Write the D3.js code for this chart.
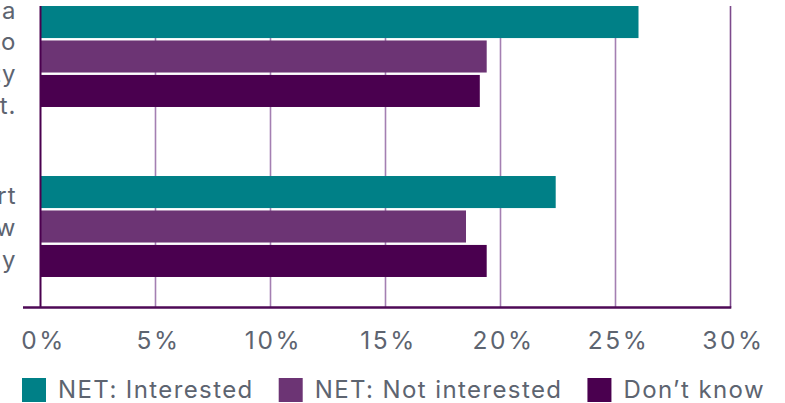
<!DOCTYPE html>
<html>
<head>
<meta charset="utf-8">
<script src="https://cdn.jsdelivr.net/npm/d3@7"></script>
<style>
  body { margin: 0; background: #fff; }
  svg { display: block; }
  text { font-family: Inter, 'Open Sans', sans-serif; fill: #5d6470; }
</style>
</head>
<body>
<div id="chart"></div>
<script>
// Data
const categories = [
  ['Having access to a', 'service that helps me to', 'manage my electricity', 'use and lower my cost.'],
  ['Having a smart', 'display that shows how', 'I use my energy'],
];
const series = ['NET: Interested', 'NET: Not interested', 'Don’t know'];
const interested = [26.0, 22.4];
const notInterested = [19.4, 18.5];
const dontKnow = [19.1, 19.4];
const tickValues = [0, 5, 10, 15, 20, 25, 30];
const tickLabels = ['0%', '5%', '10%', '15%', '20%', '25%', '30%'];

const width = 785;
const height = 403;
const plot = { l: 40.5, r: 730.5, t: 6, b: 307.5 };
const colors = ['#008087', '#6c3474', '#4a004f'];

const rows = categories.map((c, i) => ({
  key: i,
  label: c,
  values: [interested[i], notInterested[i], dontKnow[i]],
}));

const svg = d3
  .select('#chart')
  .append('svg')
  .attr('width', width)
  .attr('height', height);

const xScale = d3.scaleLinear([0, 30], [plot.l, plot.r]);
const yScale = d3
  .scaleBand(d3.range(categories.length), [-28.5, 311.5])
  .paddingInner(0.406)
  .paddingOuter(0.203);
const ySub = d3.scaleBand(d3.range(series.length), [0, yScale.bandwidth()]).paddingInner(0.07);

// gridlines
svg
  .append('g')
  .selectAll('line')
  .data(tickValues.slice(1))
  .join('line')
  .attr('x1', (d) => xScale(d))
  .attr('x2', (d) => xScale(d))
  .attr('y1', plot.t)
  .attr('y2', plot.b)
  .attr('stroke', (d) => (d === 30 ? '#7d4a8c' : '#a47fb2'))
  .attr('stroke-width', 1.6);

// bars
const groups = svg
  .append('g')
  .selectAll('g')
  .data(rows)
  .join('g')
  .attr('transform', (d) => `translate(0, ${yScale(d.key)})`);

groups
  .selectAll('rect')
  .data((d) => d.values)
  .join('rect')
  .attr('x', xScale(0))
  .attr('y', (d, i) => ySub(i))
  .attr('width', (d) => xScale(d) - xScale(0))
  .attr('height', ySub.bandwidth())
  .attr('fill', (d, i) => colors[i]);

// category labels (cut off by the left edge, as in the original)
groups
  .selectAll('text')
  .data((d) => d.label.map((t, i) => ({ t, i, n: d.label.length })))
  .join('text')
  .attr('x', 16.5)
  .attr('y', (d) => yScale.bandwidth() / 2 + (d.i - (d.n - 1) / 2) * 32 + 10)
  .attr('text-anchor', 'end')
  .style('font-size', '24px')
  .style('letter-spacing', '1px')
  .text((d) => d.t);

// axes
svg
  .append('line')
  .attr('x1', plot.l)
  .attr('x2', plot.l)
  .attr('y1', plot.t)
  .attr('y2', plot.b)
  .attr('stroke', '#4a004f')
  .attr('stroke-width', 2);

svg
  .append('line')
  .attr('x1', 23)
  .attr('x2', plot.r + 0.8)
  .attr('y1', plot.b)
  .attr('y2', plot.b)
  .attr('stroke', '#4e0a56')
  .attr('stroke-width', 2.6);

const xAxis = d3
  .axisBottom(xScale)
  .tickValues(tickValues)
  .tickFormat((d, i) => tickLabels[i])
  .tickSize(0)
  .tickPadding(0);

const ax = svg
  .append('g')
  .attr('transform', 'translate(0, 332)')
  .call(xAxis);
ax.select('.domain').remove();
ax.selectAll('text')
  .attr('dy', '0.71em')
  .attr('dx', 2.5)
  .attr('fill', null)
  .style('font-size', '24.5px')
  .style('letter-spacing', '2.6px');

// legend
const legend = svg.append('g').attr('transform', 'translate(22, 378)');
let lx = 0;
series.forEach((s, i) => {
  const item = legend.append('g').attr('transform', `translate(${lx}, 0)`);
  item.append('rect').attr('width', 24).attr('height', 24).attr('fill', colors[i]);
  const t = item
    .append('text')
    .attr('x', 36)
    .attr('y', 19.5)
    .style('font-size', '24px')
    .style('letter-spacing', '1.4px')
    .text(s);
  lx += 36 + t.node().getComputedTextLength() + 25;
});
</script>
</body>
</html>
